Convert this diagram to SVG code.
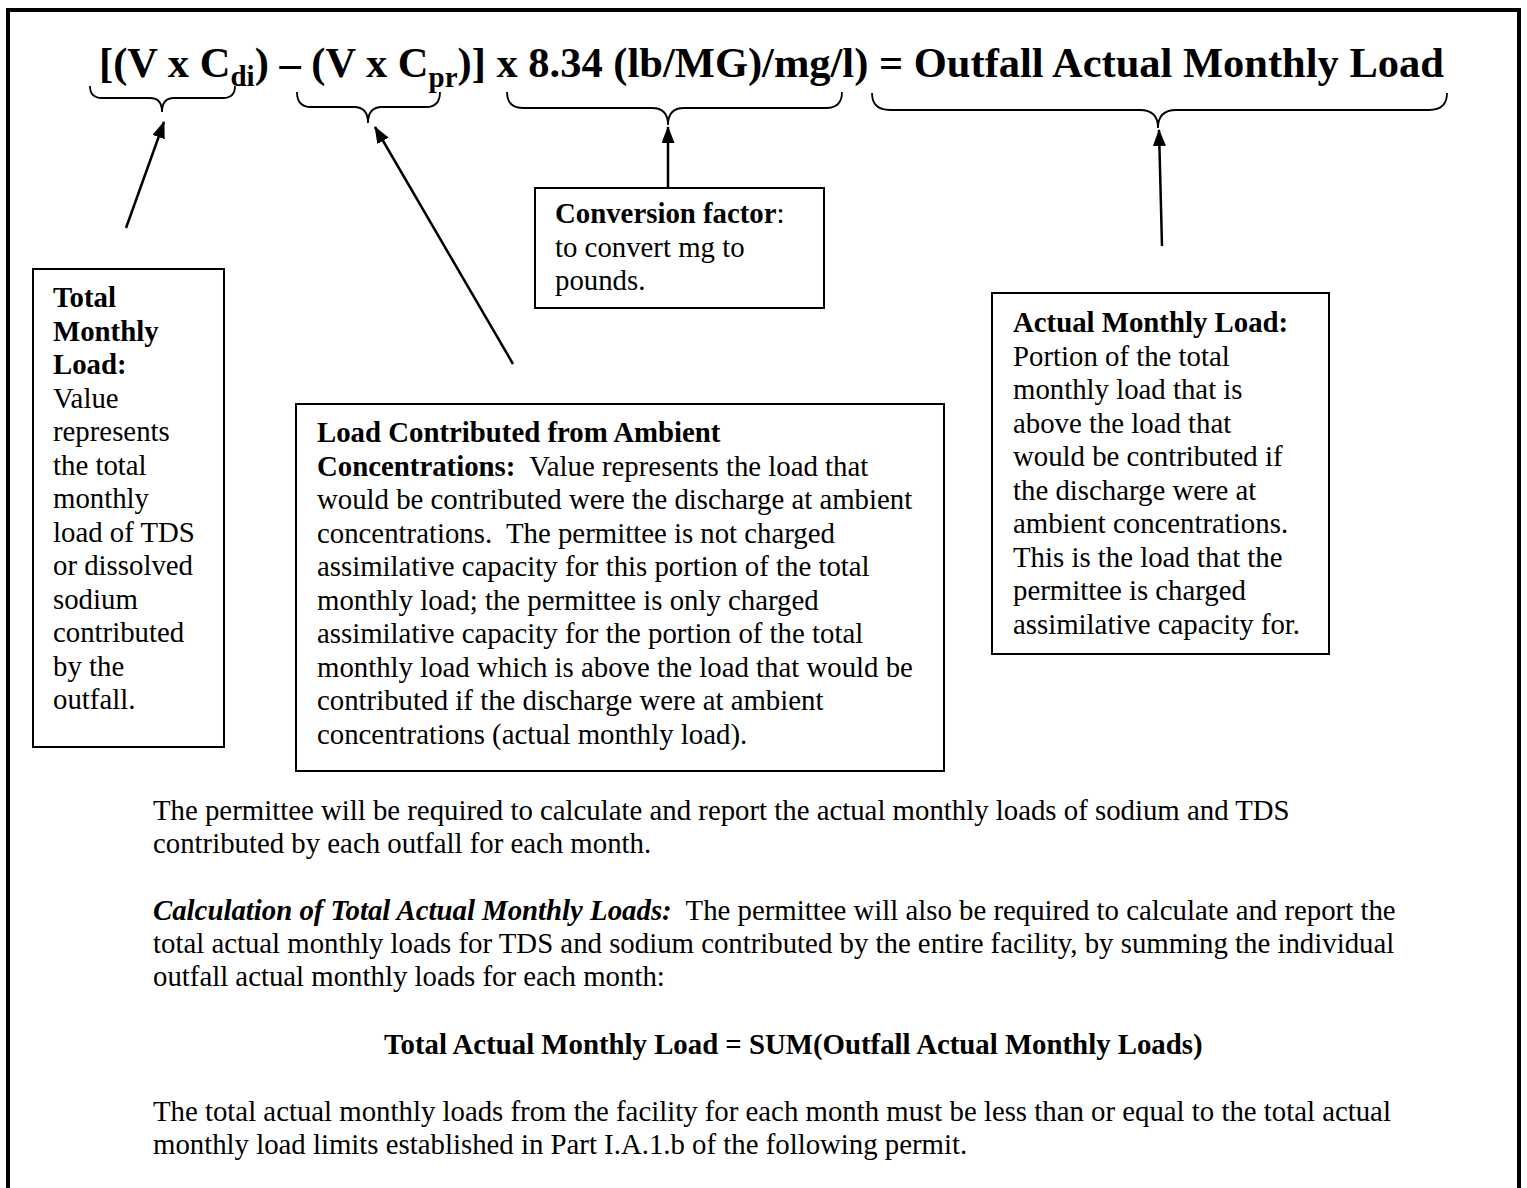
<svg xmlns="http://www.w3.org/2000/svg" width="1527" height="1188" viewBox="0 0 1527 1188">
<style>
text{font-family:"Liberation Serif","Times New Roman",serif;fill:#000;}
.b{font-size:28.8px;}
.bold{font-weight:bold;}
.bi{font-weight:bold;font-style:italic;}
.title{font-size:42.5px;font-weight:bold;}
.box{fill:#fff;stroke:#000;stroke-width:2;}
.brace{fill:none;stroke:#000;stroke-width:1.8;}
.arrow{fill:none;stroke:#000;stroke-width:2.5;marker-end:url(#ah);}
</style>
<defs>
<marker id="ah" markerUnits="userSpaceOnUse" markerWidth="17" markerHeight="13" refX="16" refY="6.5" orient="auto">
<path d="M0,0 L17,6.5 L0,13 z" fill="#000"/>
</marker>
</defs>
<rect x="0" y="0" width="1527" height="1188" fill="#fff"/>
<path id="frame" d="M8,1190 V10 H1519 V1190" fill="none" stroke="#000" stroke-width="4"/>

<g id="equation">
<text class="title" x="99" y="77" xml:space="preserve">[(V x C<tspan font-size="29" dy="9">di</tspan><tspan dy="-9">) – (V x C</tspan><tspan font-size="29" dy="10">pr</tspan><tspan dy="-10">)] x 8.34 (lb/MG)/mg/l) = Outfall Actual Monthly Load</tspan></text>
</g>

<g id="braces">
<path class="brace" d="M90,86 Q90,98 102,98 L150,98 Q162,98 162,112 Q162,98 174,98 L223,98 Q235,98 235,86"/>
<path class="brace" d="M297,92 Q297,107 311,107 L354,107 Q368,107 368,123 Q368,107 382,107 L426,107 Q440,107 440,92"/>
<path class="brace" d="M507,92 Q507,108 523,108 L652,108 Q668,108 668,125 Q668,108 684,108 L826,108 Q842,108 842,92"/>
<path class="brace" d="M872,93 Q872,110 890,110 L1140,110 Q1158,110 1158,128 Q1158,110 1176,110 L1429,110 Q1447,110 1447,93"/>
</g>

<g id="connectors">
<line class="arrow" x1="126" y1="228" x2="164" y2="122"/>
<line class="arrow" x1="513" y1="364" x2="375" y2="127"/>
<line class="arrow" x1="668" y1="187" x2="668" y2="127"/>
<line class="arrow" x1="1162" y1="246" x2="1159" y2="130"/>
</g>

<g id="node-total-monthly-load">
<rect class="box" x="33" y="269" width="191" height="478"/>
<text class="b bold" x="53" y="307">Total</text>
<text class="b bold" x="53" y="340.5">Monthly</text>
<text class="b bold" x="53" y="374">Load:</text>
<text class="b" x="53" y="407.5">Value</text>
<text class="b" x="53" y="441">represents</text>
<text class="b" x="53" y="474.5">the total</text>
<text class="b" x="53" y="508">monthly</text>
<text class="b" x="53" y="541.5">load of TDS</text>
<text class="b" x="53" y="575">or dissolved</text>
<text class="b" x="53" y="608.5">sodium</text>
<text class="b" x="53" y="642">contributed</text>
<text class="b" x="53" y="675.5">by the</text>
<text class="b" x="53" y="709">outfall.</text>
</g>

<g id="node-conversion-factor">
<rect class="box" x="535" y="188" width="289" height="120"/>
<text class="b" x="555" y="223"><tspan class="bold">Conversion factor</tspan>:</text>
<text class="b" x="555" y="256.5">to convert mg to</text>
<text class="b" x="555" y="290">pounds.</text>
</g>

<g id="node-ambient-load">
<rect class="box" x="296" y="404" width="648" height="367"/>
<text class="b bold" x="317" y="442">Load Contributed from Ambient</text>
<text class="b" x="317" y="475.5" xml:space="preserve"><tspan class="bold">Concentrations:</tspan>  Value represents the load that</text>
<text class="b" x="317" y="509">would be contributed were the discharge at ambient</text>
<text class="b" x="317" y="542.5" xml:space="preserve">concentrations.  The permittee is not charged</text>
<text class="b" x="317" y="576">assimilative capacity for this portion of the total</text>
<text class="b" x="317" y="609.5">monthly load; the permittee is only charged</text>
<text class="b" x="317" y="643">assimilative capacity for the portion of the total</text>
<text class="b" x="317" y="676.5">monthly load which is above the load that would be</text>
<text class="b" x="317" y="710">contributed if the discharge were at ambient</text>
<text class="b" x="317" y="743.5">concentrations (actual monthly load).</text>
</g>

<g id="node-actual-monthly-load">
<rect class="box" x="992" y="293" width="337" height="361"/>
<text class="b bold" x="1013" y="332">Actual Monthly Load:</text>
<text class="b" x="1013" y="365.5">Portion of the total</text>
<text class="b" x="1013" y="399">monthly load that is</text>
<text class="b" x="1013" y="432.5">above the load that</text>
<text class="b" x="1013" y="466">would be contributed if</text>
<text class="b" x="1013" y="499.5">the discharge were at</text>
<text class="b" x="1013" y="533">ambient concentrations.</text>
<text class="b" x="1013" y="566.5">This is the load that the</text>
<text class="b" x="1013" y="600">permittee is charged</text>
<text class="b" x="1013" y="633.5">assimilative capacity for.</text>
</g>

<g id="body-text">
<text class="b" x="153" y="820">The permittee will be required to calculate and report the actual monthly loads of sodium and TDS</text>
<text class="b" x="153" y="853">contributed by each outfall for each month.</text>
<text class="b" x="153" y="920" xml:space="preserve"><tspan class="bi">Calculation of Total Actual Monthly Loads:</tspan>  The permittee will also be required to calculate and report the</text>
<text class="b" x="153" y="953">total actual monthly loads for TDS and sodium contributed by the entire facility, by summing the individual</text>
<text class="b" x="153" y="986">outfall actual monthly loads for each month:</text>
<text class="b bold" x="384" y="1054">Total Actual Monthly Load = SUM(Outfall Actual Monthly Loads)</text>
<text class="b" x="153" y="1121">The total actual monthly loads from the facility for each month must be less than or equal to the total actual</text>
<text class="b" x="153" y="1154">monthly load limits established in Part I.A.1.b of the following permit.</text>
</g>
</svg>
